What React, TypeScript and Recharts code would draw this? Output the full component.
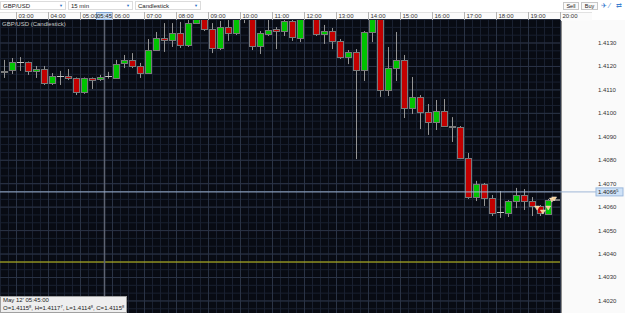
import React from "react";
import {
  ComposedChart,
  Bar,
  Scatter,
  XAxis,
  YAxis,
  CartesianGrid,
  ReferenceLine,
} from "recharts";

// 15 min candles, GBP/USD
const times = [
  "02:30", "02:45", "03:00", "03:15", "03:30", "03:45", "04:00", "04:15",
  "04:30", "04:45", "05:00", "05:15", "05:30", "05:45", "06:00", "06:15",
  "06:30", "06:45", "07:00", "07:15", "07:30", "07:45", "08:00", "08:15",
  "08:30", "08:45", "09:00", "09:15", "09:30", "09:45", "10:00", "10:15",
  "10:30", "10:45", "11:00", "11:15", "11:30", "11:45", "12:00", "12:15",
  "12:30", "12:45", "13:00", "13:15", "13:30", "13:45", "14:00", "14:15",
  "14:30", "14:45", "15:00", "15:15", "15:30", "15:45", "16:00", "16:15",
  "16:30", "16:45", "17:00", "17:15", "17:30", "17:45", "18:00", "18:15",
  "18:30", "18:45", "19:00", "19:15", "19:30", "19:45",
];

const opens = [
  1.41176, 1.41185, 1.41219, 1.41219, 1.41181, 1.41189, 1.41129, 1.41159,
  1.41159, 1.41151, 1.41091, 1.41151, 1.41146, 1.41158, 1.41151, 1.41215,
  1.41228, 1.41202, 1.41172, 1.4127, 1.41321, 1.41313, 1.41343, 1.41291,
  1.41385, 1.41415, 1.4136, 1.41279, 1.41368, 1.41343, 1.41419, 1.41424,
  1.41287, 1.41338, 1.41358, 1.41351, 1.41394, 1.41321, 1.41419, 1.41432,
  1.41338, 1.41351, 1.41309, 1.4124, 1.41262, 1.41185, 1.41347, 1.41419,
  1.411, 1.41193, 1.41228, 1.41023, 1.4107, 1.41006, 1.40963, 1.4101,
  1.40946, 1.40942, 1.4081, 1.40643, 1.40699, 1.40639, 1.40579, 1.40575,
  1.40626, 1.40652, 1.40626, 1.40605, 1.40571, 1.4063,
];

const highs = [
  1.41228, 1.41236, 1.4124, 1.41221, 1.41202, 1.41202, 1.41172, 1.41181,
  1.41189, 1.41153, 1.41153, 1.41153, 1.41164, 1.41177, 1.41228, 1.41249,
  1.41257, 1.41215, 1.41317, 1.41347, 1.41385, 1.41385, 1.4139, 1.41402,
  1.41441, 1.41441, 1.41385, 1.41394, 1.41398, 1.41432, 1.41462, 1.41449,
  1.41351, 1.41402, 1.41368, 1.41407, 1.41411, 1.41441, 1.41458, 1.41449,
  1.41377, 1.41364, 1.41317, 1.4127, 1.41274, 1.41351, 1.41441, 1.41441,
  1.41283, 1.41347, 1.41249, 1.41155, 1.41078, 1.4104, 1.41057, 1.41061,
  1.40984, 1.40946, 1.40831, 1.40712, 1.40703, 1.40652, 1.40669, 1.4063,
  1.40682, 1.40677, 1.40643, 1.40609, 1.40635, 1.40635,
];

const lows = [
  1.41151, 1.41168, 1.41181, 1.41164, 1.41151, 1.41121, 1.41121, 1.41121,
  1.41142, 1.41078, 1.41083, 1.41104, 1.41138, 1.41148, 1.41149, 1.41193,
  1.41193, 1.41151, 1.4117, 1.41266, 1.41262, 1.41283, 1.41279, 1.41283,
  1.41381, 1.41351, 1.41257, 1.4127, 1.41309, 1.41334, 1.41385, 1.4127,
  1.41253, 1.4133, 1.41274, 1.4133, 1.41309, 1.41304, 1.41407, 1.4133,
  1.41296, 1.41274, 1.41232, 1.4121, 1.40805, 1.41138, 1.41304, 1.4107,
  1.41074, 1.41138, 1.4098, 1.40997, 1.40933, 1.40908, 1.40929, 1.40942,
  1.40878, 1.40805, 1.40635, 1.40626, 1.40605, 1.40562, 1.40554, 1.40558,
  1.40596, 1.40588, 1.40562, 1.40562, 1.40567, 1.4063,
];

const closes = [
  1.41181, 1.41219, 1.41219, 1.41181, 1.41189, 1.41129, 1.41159, 1.41159,
  1.41151, 1.41091, 1.41151, 1.41142, 1.41155, 1.41158, 1.4121, 1.41228,
  1.41202, 1.41172, 1.4127, 1.41321, 1.41313, 1.41343, 1.41291, 1.41385,
  1.41415, 1.4136, 1.41279, 1.41368, 1.41343, 1.41407, 1.41441, 1.41287,
  1.41343, 1.41355, 1.41351, 1.41394, 1.41326, 1.41415, 1.41432, 1.41338,
  1.41351, 1.41309, 1.4124, 1.41262, 1.41185, 1.41347, 1.41411, 1.411,
  1.41193, 1.41228, 1.41023, 1.4107, 1.41006, 1.40963, 1.4101, 1.40946,
  1.40942, 1.4081, 1.40643, 1.40699, 1.40639, 1.40575, 1.40579, 1.40626,
  1.40652, 1.40626, 1.40605, 1.40575, 1.4063, 1.40633,
];

const priceTicks = [
  1.402, 1.403, 1.404, 1.405, 1.406, 1.407, 1.408, 1.409, 1.41, 1.411, 1.412, 1.413,
];
const hourTicks = [
  180, 240, 300, 360, 420, 480, 540, 600, 660, 720, 780, 840, 900, 960, 1020,
  1080, 1140, 1200,
];

// trade markers near the end
const markerTimes = [1156, 1167, 1177, 1184, 1188];
const markerPrices = [1.40596, 1.40579, 1.40596, 1.4063, 1.40635];

const lastPrice = 1.40665;
const alertPrice = 1.40366;
const cursorIndex = 13;

const FONT = "'Liberation Sans', Arial, sans-serif";
const Y_DOMAIN = [1.401486, 1.413981];
const X_DOMAIN = [149.0625, 1199.0625];

const toMin = (s: string) => {
  const [h, m] = s.split(":").map(Number);
  return h * 60 + m;
};
const fmtTime = (m: number) =>
  `${String(Math.floor(m / 60)).padStart(2, "0")}:${String(m % 60).padStart(2, "0")}`;

const candles = times.map((time, i) => ({
  time,
  t: toMin(time) + 7.5,
  open: opens[i],
  high: highs[i],
  low: lows[i],
  close: closes[i],
  range: [lows[i], highs[i]],
}));

const markers = markerTimes.map((t, i) => ({ t, p: markerPrices[i] }));

const minorPrices: number[] = [];
for (let i = -1; i <= 36; i++) minorPrices.push(1.402 + (i * 0.001) / 3);
const minorTimes: number[] = [];
for (let m = 150; m <= 1200; m += 15) minorTimes.push(m);

const Candle = (props: any) => {
  const { x, y, width, height, payload } = props;
  if (x == null || y == null) return null;
  const { open, close, high, low } = payload;
  const span = high - low;
  const py = (v: number) => (span === 0 ? y : y + ((high - v) / span) * height);
  const left = Math.round(x);
  const cx = left + 3.5;
  const top = Math.round(py(Math.max(open, close)));
  const bot = Math.round(py(Math.min(open, close)));
  const flat = Math.abs(close - open) < 0.000005;
  return (
    <g>
      <line x1={cx} x2={cx} y1={y} y2={y + height} stroke="#949494" strokeWidth={1} />
      {flat ? (
        <line x1={left} x2={left + 7} y1={top + 0.5} y2={top + 0.5} stroke="#c4c4c4" strokeWidth={1} />
      ) : (
        <rect
          x={left + 0.5}
          y={top + 0.5}
          width={6}
          height={Math.max(1, bot - top)}
          fill={close > open ? "#00c400" : "#c20000"}
          stroke="#7a7a7a"
          strokeWidth={1}
        />
      )}
    </g>
  );
};

const Marker = (props: any) => {
  const { cx, cy } = props;
  if (cx == null) return null;
  return (
    <polygon
      points={`${cx - 2.5},${cy - 2} ${cx + 2.5},${cy - 2} ${cx},${cy + 2}`}
      fill="#f4c98e"
      stroke="#fff3dc"
      strokeWidth={0.5}
    />
  );
};

const TimeTick = (props: any) => {
  const { x, payload } = props;
  return (
    <g>
      <line x1={x} x2={x} y1={12} y2={20} stroke="#b4b4b4" />
      <text x={x + 2} y={18.2} fontSize={6} fill="#333" fontFamily={FONT}>
        {fmtTime(payload.value)}
      </text>
    </g>
  );
};

const PriceTick = (props: any) => {
  const { y, payload } = props;
  return (
    <text x={598} y={y + 2} fontSize={6} fill="#333" fontFamily={FONT}>
      {payload.value.toFixed(4)}
    </text>
  );
};

const LastPriceFlag = (props: any) => {
  const { viewBox } = props;
  if (!viewBox) return null;
  const right = viewBox.x + viewBox.width;
  const y = viewBox.y;
  const s = lastPrice.toFixed(5);
  return (
    <g>
      <line x1={right} x2={right + 36} y1={y} y2={y} stroke="#9fb6d6" />
      <rect x={right + 36} y={y - 4} width={27} height={8} fill="#cfe2f7" stroke="#9bb8dc" />
      <text x={right + 38} y={y + 2} fontSize={6} fill="#222" fontFamily={FONT}>
        {s.slice(0, 6)}
        <tspan fontSize={4} dy={-2}>{s.slice(6)}</tspan>
      </text>
    </g>
  );
};

const CursorFlag = (props: any) => {
  const { viewBox } = props;
  if (!viewBox) return null;
  return (
    <g>
      <rect x={viewBox.x - 8} y={12.5} width={16} height={7} fill="#cde0f5" stroke="#7fa3d2" />
      <text x={viewBox.x} y={18.2} fontSize={6} fill="#222" fontFamily={FONT} textAnchor="middle">
        {times[cursorIndex]}
      </text>
    </g>
  );
};

const Drop = ({ left, width, label }: { left: number; width: number; label: string }) => (
  <div
    style={{
      position: "absolute",
      left,
      top: 1,
      width,
      height: 9,
      background: "#fff",
      border: "1px solid #dcdcdc",
      boxSizing: "border-box",
      fontSize: 6,
      lineHeight: "8px",
      paddingLeft: 2,
      color: "#222",
    }}
  >
    {label}
    <span style={{ position: "absolute", right: 2, top: 0, fontSize: 4, color: "#2b6fc4" }}>▼</span>
  </div>
);

const Btn = ({ left, width, label }: { left: number; width: number; label: string }) => (
  <div
    style={{
      position: "absolute",
      left,
      top: 2,
      width,
      height: 8,
      background: "#fafafa",
      border: "1px solid #c8c8c8",
      boxSizing: "border-box",
      fontSize: 5.5,
      lineHeight: "6px",
      textAlign: "center",
      color: "#222",
    }}
  >
    {label}
  </div>
);

const sup = (v: number) => {
  const s = v.toFixed(5);
  return (
    <>
      {s.slice(0, 6)}
      <sup style={{ fontSize: 4, verticalAlign: "top", lineHeight: "4px" }}>{s.slice(6)}</sup>
    </>
  );
};

export default function App() {
  const c = candles[cursorIndex];
  return (
    <div
      style={{
        position: "absolute",
        left: 0,
        top: 0,
        width: 625,
        height: 313,
        background: "#fff",
        fontFamily: FONT,
        overflow: "hidden",
      }}
    >
      <div style={{ position: "absolute", left: 561, top: 20, width: 64, height: 293, background: "#fafafa", borderLeft: "1px solid #8a8a8a" }} />
      <div style={{ position: "absolute", left: 0, top: 12, width: 592, height: 8, background: "#fbfbfb", borderTop: "1px solid #e2e2e2" }} />
      <ComposedChart
        width={625}
        height={313}
        data={candles}
        margin={{ top: 0, right: 0, bottom: 0, left: 0 }}
        style={{ position: "absolute", left: 0, top: 0 }}
      >
        <CartesianGrid
          xAxisId="num"
          fill="#080b13"
          stroke="#192030"
          horizontalValues={minorPrices}
          verticalValues={minorTimes}
        />
        <CartesianGrid
          xAxisId="num"
          stroke="#2a3345"
          horizontalValues={priceTicks}
          verticalValues={hourTicks}
        />
        <XAxis xAxisId="cat" dataKey="time" type="category" hide />
        <XAxis
          xAxisId="num"
          dataKey="t"
          type="number"
          orientation="top"
          height={20}
          domain={X_DOMAIN}
          allowDataOverflow
          ticks={hourTicks}
          interval={0}
          axisLine={false}
          tickLine={false}
          tick={<TimeTick />}
        />
        <YAxis
          orientation="right"
          width={65}
          domain={Y_DOMAIN}
          allowDataOverflow
          ticks={priceTicks}
          interval={0}
          axisLine={false}
          tickLine={false}
          tick={<PriceTick />}
        />
        <ReferenceLine y={alertPrice} stroke="#c9c91c" strokeWidth={1} />
        <ReferenceLine
          xAxisId="num"
          x={toMin(times[cursorIndex])}
          stroke="#5d6372"
          strokeWidth={1.5}
          label={<CursorFlag />}
        />
        <Bar
          xAxisId="cat"
          dataKey="range"
          barSize={7}
          shape={<Candle />}
          isAnimationActive={false}
        />
        <ReferenceLine y={lastPrice} stroke="#9fb6d6" strokeWidth={1} label={<LastPriceFlag />} />
        <Scatter
          xAxisId="num"
          data={markers}
          dataKey="p"
          shape={<Marker />}
          isAnimationActive={false}
        />
      </ComposedChart>

      {/* toolbar */}
      <div style={{ position: "absolute", left: 0, top: 0, width: 625, height: 12, background: "#fff" }}>
        <Drop left={0} width={66} label="GBP/USD" />
        <Drop left={68} width={65} label="15 min" />
        <Drop left={135} width={66} label="Candlestick" />
        <Btn left={563} width={16} label="Sell" />
        <Btn left={581} width={17} label="Buy" />
        <span style={{ position: "absolute", left: 601, top: 1, fontSize: 7, color: "#3d7fd0", lineHeight: "9px" }}>✈</span>
        <span style={{ position: "absolute", left: 609, top: 1, fontSize: 7, color: "#3d7fd0", lineHeight: "9px" }}>⁄</span>
        <span style={{ position: "absolute", left: 616, top: 1, fontSize: 7, color: "#3d7fd0", lineHeight: "9px" }}>⇄</span>
      </div>

      <div style={{ position: "absolute", left: 2, top: 20, fontSize: 6, color: "#c8c8c8", lineHeight: "8px" }}>
        GBP/USD (Candlestick)
      </div>

      <div
        style={{
          position: "absolute",
          left: 0,
          top: 296,
          width: 127,
          height: 17,
          background: "#eeeeee",
          border: "1px solid #a0a0a0",
          boxSizing: "border-box",
          fontSize: 6,
          lineHeight: "7.5px",
          color: "#222",
          paddingLeft: 2,
        }}
      >
        <div>May 12' {times[cursorIndex]}:00</div>
        <div style={{ whiteSpace: "nowrap" }}>
          O={sup(c.open)}, H={sup(c.high)}, L={sup(c.low)}, C={sup(c.close)}
        </div>
      </div>
    </div>
  );
}
